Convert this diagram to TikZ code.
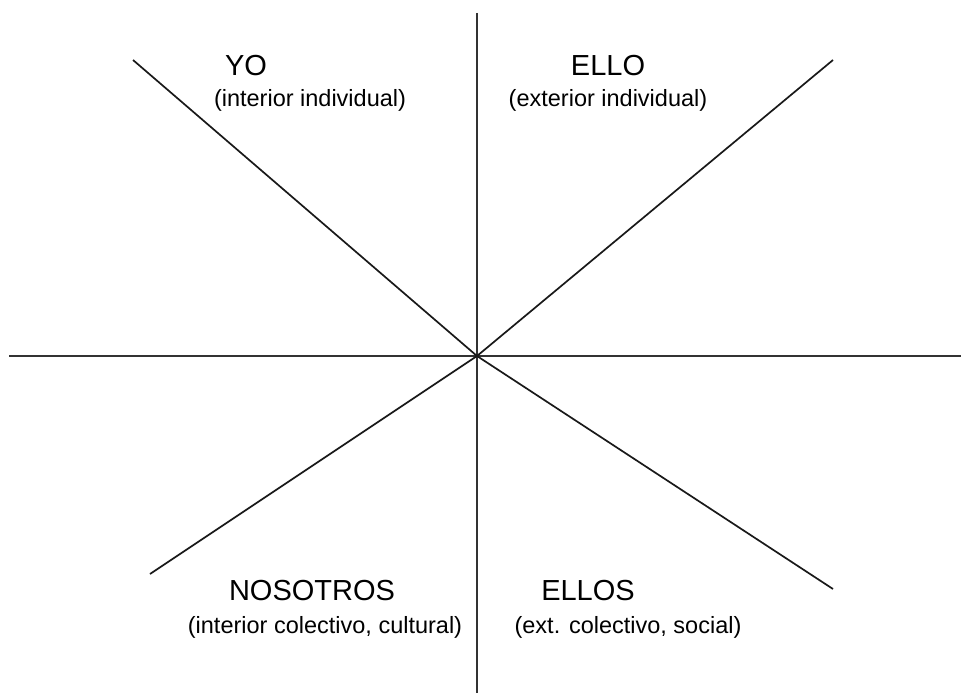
\documentclass[tikz,border=0pt]{standalone}
\usepackage{fontspec}
\setmainfont{Liberation Sans}

\begin{document}
\begin{tikzpicture}[x=1pt, y=-1pt,
  axis/.style = {line width=2pt, black!80},
  ray/.style = {line width=1.7pt, black!90},
  every node/.style = {inner sep=0pt, align=center},
  quadname/.style = {font=\fontsize{29}{31}\selectfont},
  quadsub/.style = {font=\fontsize{23.5}{26}\selectfont}]
  \useasboundingbox (0,0) rectangle (961,693);
  % axes and diagonals
  \coordinate (o)     at (477,356);
  \coordinate (top)   at (477,13);
  \coordinate (bot)   at (477,693);
  \coordinate (left)  at (9,356);
  \coordinate (right) at (961,356);
  \coordinate (ul)    at (133,60);
  \coordinate (ur)    at (833,60);
  \coordinate (ll)    at (150,574);
  \coordinate (lr)    at (833,589);
  \draw[axis] (top) -- (bot);
  \draw[axis] (left) -- (right);
  \draw[ray] (ul) -- (o) -- (lr);
  \draw[ray] (ll) -- (o) -- (ur);
  % quadrant labels
  \node[quadname] (yo)      at (246,66)  {YO};
  \node[quadsub]  (yosub)   at (310,100) {(interior individual)};
  \node[quadname] (ello)    at (608,66)  {ELLO};
  \node[quadsub]  (ellosub) at (608,100) {(exterior individual)};
  \node[quadname] (noso)    at (312,591) {NOSOTROS};
  \node[quadsub]  (nososub) at (325,627) {(interior colectivo, cultural)};
  \node[quadname] (ellos)   at (588,591) {ELLOS};
  \node[quadsub]  (ellossub) at (628,627) {(ext. colectivo, social)};
\end{tikzpicture}
\end{document}
